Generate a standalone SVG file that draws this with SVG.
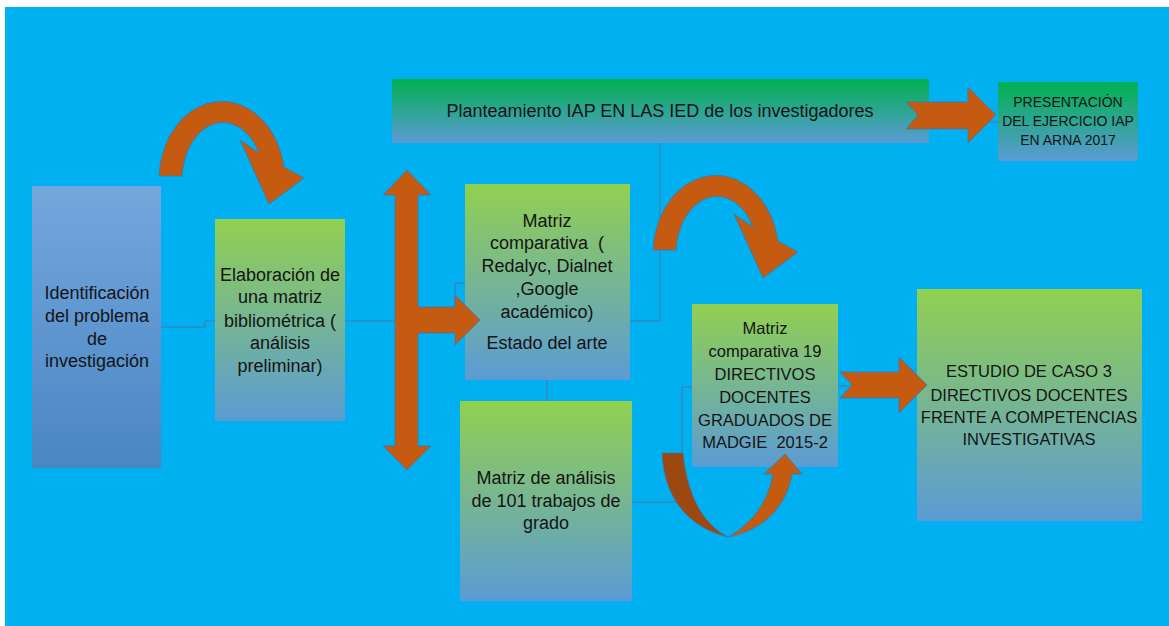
<svg xmlns="http://www.w3.org/2000/svg" width="1169" height="626" viewBox="0 0 1169 626">
<defs>
<linearGradient id="gBlue" x1="0" y1="0" x2="0" y2="1"><stop offset="0" stop-color="#74A7DC"/><stop offset="1" stop-color="#4A86C4"/></linearGradient>
<linearGradient id="gGreen" x1="0" y1="0" x2="0" y2="1"><stop offset="0" stop-color="#92D050"/><stop offset="1" stop-color="#5B9BD5"/></linearGradient>
<linearGradient id="gDark" x1="0" y1="0" x2="0" y2="1"><stop offset="0" stop-color="#00B050"/><stop offset="1" stop-color="#5B9BD5"/></linearGradient>
<style>
.t{font-family:"Liberation Sans",Arial,sans-serif;font-size:18px;fill:#141414;text-anchor:middle}
.s{font-size:16.5px}
.xs{font-size:14px}
.ln{fill:none;stroke:#4A78AA;stroke-width:1}
.ar{fill:#C55A11;stroke:#3F77AA;stroke-width:0.8;stroke-linejoin:miter}
.ard{fill:#9C4810;stroke:#3F77AA;stroke-width:0.8}
</style>
</defs>
<rect x="0" y="0" width="1169" height="626" fill="#FFFFFF"/>
<rect x="5" y="7" width="1164" height="619" fill="#00B0F0"/>

<g id="connectors">
<path class="ln" d="M161,327 H205 V321 H215"/>
<path class="ln" d="M345,321 H455 V283 H465"/>
<path class="ln" d="M630,321 H660 V143"/>
<path class="ln" d="M547,380 V401"/>
<path class="ln" d="M632,502 H682 V387 H692"/>
<path class="ln" d="M929,111 H963 V122 H998"/>
<path class="ln" d="M838,386 H917"/>
</g>

<g id="n-identificacion">
<rect x="32" y="186" width="129" height="282" fill="url(#gBlue)"/>
<text class="t"><tspan x="97" y="299">Identificación</tspan><tspan x="97" y="322">del problema</tspan><tspan x="97" y="345">de</tspan><tspan x="97" y="367">investigación</tspan></text>
</g>

<g id="n-elaboracion">
<rect x="215" y="219" width="130" height="202" fill="url(#gGreen)"/>
<text class="t"><tspan x="280" y="281">Elaboración de</tspan><tspan x="280" y="303">una matriz</tspan><tspan x="280" y="327">bibliométrica (</tspan><tspan x="280" y="349">análisis</tspan><tspan x="280" y="372">preliminar)</tspan></text>
</g>

<g id="n-planteamiento">
<rect x="392" y="79" width="537" height="64" fill="url(#gDark)"/>
<text class="t" x="660" y="117">Planteamiento IAP EN LAS IED de los investigadores</text>
</g>

<g id="n-presentacion">
<rect x="998" y="82" width="140" height="79" fill="url(#gDark)"/>
<text class="t xs"><tspan x="1068" y="107">PRESENTACIÓN</tspan><tspan x="1068" y="126">DEL EJERCICIO IAP</tspan><tspan x="1068" y="145">EN ARNA 2017</tspan></text>
</g>

<g id="n-matriz-comparativa">
<rect x="465" y="184" width="165" height="196" fill="url(#gGreen)"/>
<text class="t"><tspan x="547" y="227">Matriz</tspan><tspan x="547" y="249">comparativa&#160; (</tspan><tspan x="547" y="272">Redalyc, Dialnet</tspan><tspan x="547" y="295">,Google</tspan><tspan x="547" y="318">académico)</tspan><tspan x="547" y="349">Estado del arte</tspan></text>
</g>

<g id="n-matriz-analisis">
<rect x="460" y="401" width="172" height="200" fill="url(#gGreen)"/>
<text class="t"><tspan x="546" y="484">Matriz de análisis</tspan><tspan x="546" y="507">de 101 trabajos de</tspan><tspan x="546" y="529">grado</tspan></text>
</g>

<g id="n-matriz-19">
<rect x="692" y="304" width="146" height="163" fill="url(#gGreen)"/>
<text class="t s"><tspan x="765" y="334">Matriz</tspan><tspan x="765" y="357">comparativa 19</tspan><tspan x="765" y="380">DIRECTIVOS</tspan><tspan x="765" y="403">DOCENTES</tspan><tspan x="765" y="426">GRADUADOS DE</tspan><tspan x="765" y="448">MADGIE&#160; 2015-2</tspan></text>
</g>

<g id="n-estudio">
<rect x="917" y="289" width="225" height="232" fill="url(#gGreen)"/>
<text class="t s"><tspan x="1029" y="377">ESTUDIO DE CASO 3</tspan><tspan x="1029" y="401">DIRECTIVOS DOCENTES</tspan><tspan x="1029" y="423">FRENTE A COMPETENCIAS</tspan><tspan x="1029" y="445">INVESTIGATIVAS</tspan></text>
</g>

<g id="arrows">
<path id="curve1" class="ar" d="M159,176 A63,79 0 0 1 284,167 L304,178 L269,204 L240,140 L259,153 A41,58 0 0 0 182,176 Z"/>
<path id="curve2" class="ar" transform="translate(494,74)" d="M159,176 A63,79 0 0 1 284,167 L304,178 L269,204 L240,140 L259,153 A41,58 0 0 0 182,176 Z"/>
<path id="tee" class="ar" d="M407,170 L431,195 L418,195 L418,307 L455,307 L455,295 L480,320 L455,345 L455,333 L418,333 L418,446 L431,446 L407,470 L383,446 L395,446 L395,195 L383,195 Z"/>
<path id="right1" class="ar" d="M906,102 H968 V87 L996,115 L968,143 V129 H906 L918,115 Z"/>
<path id="right2" class="ar" d="M840,372 H899 V357 L927,385 L899,413 V398 H840 L852,385 Z"/>
<path id="uturn-back" class="ard" d="M662,453 L683,453 C688,500 705,525 728,537 C690,528 664,500 662,453 Z"/>
<path id="uturn-front" class="ar" d="M728,537 C765,530 787,505 792,474 L802,474 L785,454 L764,474 L773,474 C768,502 752,524 728,537 Z"/>
</g>
</svg>
